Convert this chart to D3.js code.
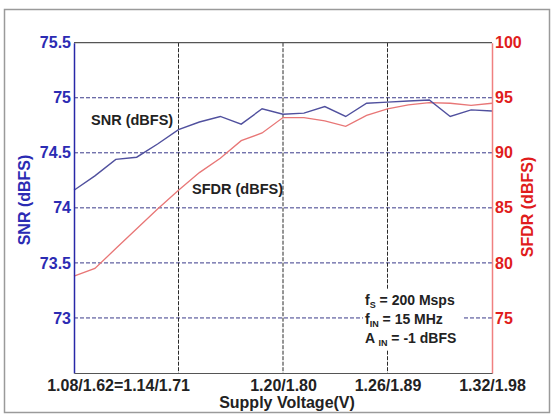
<!DOCTYPE html>
<html><head><meta charset="utf-8">
<script src="https://cdn.jsdelivr.net/npm/d3@7"></script>
<style>
body{margin:0;background:#fff;}
svg{display:block;font-family:"Liberation Sans",Arial,sans-serif;font-weight:bold;}
</style></head>
<body>
<svg id="c" width="551" height="418"></svg>
<script>
const voltages = [1.08,1.092,1.104,1.116,1.128,1.14,1.152,1.164,1.176,1.188,1.2,1.212,1.224,1.236,1.248,1.26,1.272,1.284,1.296,1.308,1.32];
const snr = [74.16,74.29,74.44,74.46,74.58,74.71,74.78,74.83,74.76,74.90,74.85,74.86,74.92,74.83,74.95,74.96,74.97,74.98,74.83,74.89,74.88];
const sfdr = [78.8,79.5,81.3,83.1,84.9,86.6,88.2,89.5,91.1,91.8,93.2,93.2,92.9,92.4,93.4,94.0,94.35,94.55,94.5,94.3,94.5];
const xTicks = [1.14,1.20,1.26,1.32];
const xTickLabels = ["1.08/1.62=1.14/1.71","1.20/1.80","1.26/1.89","1.32/1.98"];
const xGrid = [1.14,1.20,1.26];
const leftTicks = [73,73.5,74,74.5,75,75.5];
const rightTicks = [75,80,85,90,95,100];
const annotation = [["f","S"," = 200 Msps"],["f","IN"," = 15 MHz"],["A ","IN"," = -1 dBFS"]];

const svg = d3.select("#c");
const L=74, R=492, T=42.7, B=373;
const x = d3.scaleLinear().domain([1.08,1.32]).range([L,R]);
const yL = d3.scaleLinear().domain([72.5,75.5]).range([B,T]);
const yR = d3.scaleLinear().domain([70,100]).range([B,T]);

// outer frame
svg.append("rect").attr("x",4.5).attr("y",9.5).attr("width",545).attr("height",403)
  .attr("fill","#fff").attr("stroke","#9a9a9a").attr("stroke-width",1.5);

// horizontal grid
svg.append("g").selectAll("line").data(leftTicks.filter(d=>d<75.5)).join("line")
  .attr("x1",L).attr("x2",R).attr("y1",d=>yL(d)).attr("y2",d=>yL(d))
  .attr("stroke","#3a3a8a").attr("stroke-width",1).attr("stroke-dasharray","4,2");
// vertical grid
svg.append("g").selectAll("line").data(xGrid).join("line")
  .attr("x1",d=>x(d)).attr("x2",d=>x(d)).attr("y1",T).attr("y2",B)
  .attr("stroke","#2a2a2a").attr("stroke-width",1).attr("stroke-dasharray","4,1.5");

// top border
svg.append("line").attr("x1",L).attr("x2",R).attr("y1",T).attr("y2",T).attr("stroke","#555").attr("stroke-width",1.2);

// lines
const lineL = d3.line().x((d,i)=>x(voltages[i])).y(d=>yL(d));
const lineR = d3.line().x((d,i)=>x(voltages[i])).y(d=>yR(d));
svg.append("path").datum(sfdr).attr("d",lineR).attr("fill","none").attr("stroke","#e87676").attr("stroke-width",1.3);
svg.append("path").datum(snr).attr("d",lineL).attr("fill","none").attr("stroke","#50509e").attr("stroke-width",1.4);

// annotation box
svg.append("rect").attr("x",363).attr("y",290).attr("width",99).attr("height",60).attr("fill","#fff");
const ann = svg.append("g").attr("font-size",14).attr("fill","#222");
annotation.forEach((a,i)=>{
  const t = ann.append("text").attr("x",365).attr("y",305+i*19);
  t.append("tspan").text(a[0]);
  t.append("tspan").attr("font-size",9).attr("dy",3).text(a[1]);
  t.append("tspan").attr("dy",-3).text(a[2]);
});

// axes
const gL = svg.append("g").attr("transform",`translate(${L},0)`)
  .call(d3.axisLeft(yL).tickValues(leftTicks).tickSize(0).tickPadding(3).tickFormat(d3.format("")));
gL.select(".domain").attr("stroke","#2828a8").attr("stroke-width",1.5);
gL.selectAll("text").attr("fill","#2b2bb3").attr("font-size",16).attr("font-family","Liberation Sans, Arial").attr("font-weight","bold");

const gR = svg.append("g").attr("transform",`translate(${R},0)`)
  .call(d3.axisRight(yR).tickValues(rightTicks).tickSize(0).tickPadding(3).tickFormat(d3.format("")));
gR.select(".domain").attr("stroke","#f08080").attr("stroke-width",1.5);
gR.selectAll("text").attr("fill","#e01c1c").attr("font-size",16).attr("font-family","Liberation Sans, Arial").attr("font-weight","bold");

const gB = svg.append("g").attr("transform",`translate(0,${B})`)
  .call(d3.axisBottom(x).tickValues(xTicks).tickSize(0).tickPadding(7).tickFormat((d,i)=>xTickLabels[i]));
gB.select(".domain").attr("stroke","#555").attr("stroke-width",1.2);
gB.selectAll("text").attr("fill","#222").attr("font-size",16).attr("font-family","Liberation Sans, Arial").attr("font-weight","bold");
gB.selectAll(".tick").filter((d,i)=>i===0).select("text").attr("text-anchor","end").attr("x",11);

// titles
svg.append("text").attr("x",287).attr("y",408).attr("text-anchor","middle").attr("font-size",16).attr("fill","#222").text("Supply Voltage(V)");
svg.append("text").attr("transform","translate(30,200) rotate(-90)").attr("text-anchor","middle").attr("font-size",16).attr("fill","#2b2bb3").text("SNR (dBFS)");
svg.append("text").attr("transform","translate(533,207) rotate(-90)").attr("text-anchor","middle").attr("font-size",16).attr("fill","#e01c1c").text("SFDR (dBFS)");

// series labels
svg.append("text").attr("x",91).attr("y",125).attr("font-size",14.5).attr("fill","#222").text("SNR (dBFS)");
svg.append("text").attr("x",192).attr("y",194).attr("font-size",14.5).attr("fill","#222").text("SFDR (dBFS)");
</script>
</body></html>
